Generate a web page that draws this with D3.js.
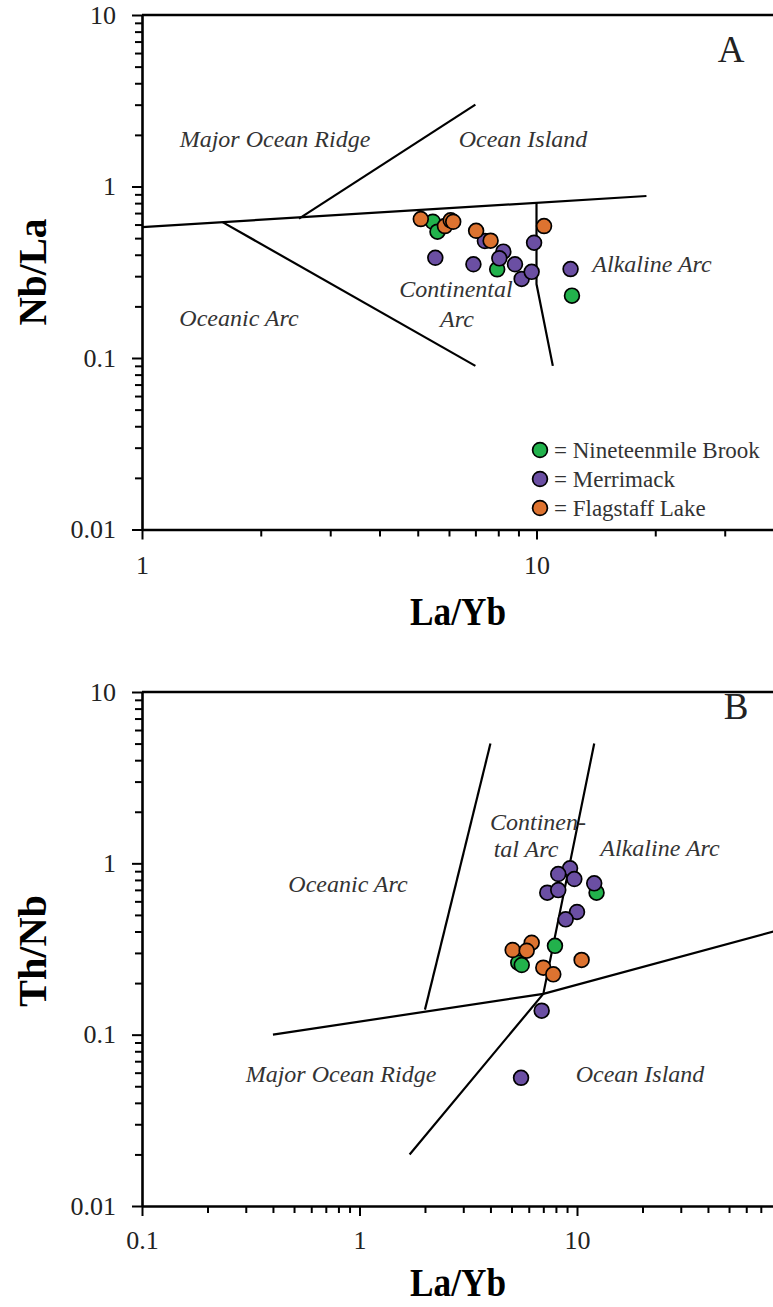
<!DOCTYPE html>
<html>
<head>
<meta charset="utf-8">
<script src="https://cdn.jsdelivr.net/npm/d3@7"></script>
<style>
  body { margin: 0; background: #fff; }
  svg { display: block; }
  svg text { font-family: "Liberation Serif", "Times New Roman", serif; }
  .axis path, .axis line { stroke: #000; }
  .axis text { font-size: 26px; fill: #222; }
  .region { font-size: 24px; font-style: italic; fill: #333; }
  .title { font-size: 40px; font-weight: bold; fill: #000; }
  .legend text { font-size: 23px; fill: #333; }
</style>
</head>
<body>
<script>
// ---- data ----
const groups = ["Nineteenmile Brook", "Merrimack", "Flagstaff Lake"];

// panel A : Nb/La vs La/Yb
const nineteenA_LaYb = [5.46, 5.61, 7.95, 12.3];
const nineteenA_NbLa = [0.623, 0.545, 0.329, 0.231];
const merrA_LaYb = [7.40, 5.54, 6.92, 8.24, 8.05, 8.82, 9.17, 9.72, 9.86, 12.2];
const merrA_NbLa = [0.481, 0.384, 0.352, 0.417, 0.381, 0.352, 0.289, 0.318, 0.470, 0.330];
const flagA_LaYb = [5.09, 5.86, 6.06, 6.15, 7.03, 7.65, 10.45];
const flagA_NbLa = [0.646, 0.588, 0.635, 0.623, 0.552, 0.483, 0.588];

// panel B : Th/Nb vs La/Yb
const nineteenB_LaYb = [12.3, 7.92, 5.37, 5.57];
const nineteenB_ThNb = [0.674, 0.330, 0.263, 0.255];
const merrB_LaYb = [9.29, 8.20, 9.72, 12.0, 7.30, 8.20, 10.0, 8.87, 6.88, 5.53];
const merrB_ThNb = [0.935, 0.866, 0.810, 0.764, 0.674, 0.698, 0.520, 0.471, 0.138, 0.056];
const flagB_LaYb = [6.19, 5.06, 5.87, 7.0, 7.78, 10.5];
const flagB_ThNb = [0.344, 0.312, 0.309, 0.246, 0.225, 0.273];

// field boundaries [La/Yb, ratio]
const boundA_1 = [[1, 0.58], [19, 0.88]];
const boundA_2 = [[2.5, 0.65], [7, 3]];
const boundA_3 = [[1.6, 0.62], [7, 0.09]];
const boundA_4 = [[10, 0.8], [10, 0.27], [11, 0.09]];
const boundB_1 = [[0.4, 0.1], [7, 0.173], [80, 0.4]];
const boundB_2 = [[4, 5], [2, 0.14]];
const boundB_3 = [[12, 5], [7, 0.173], [1.7, 0.02]];

const regionsA = ["Major Ocean Ridge", "Ocean Island", "Oceanic Arc", "Continental", "Arc", "Alkaline Arc"];
const regionsB = ["Continen-", "tal Arc", "Alkaline Arc", "Oceanic Arc", "Major Ocean Ridge", "Ocean Island"];

const colors = ["#22b24c", "#6b4fa3", "#dd7330"];

const W = 773, H = 1307;
const svg = d3.select("body").append("svg").attr("width", W).attr("height", H);

function zip(xs, ys) { return xs.map((v, i) => [v, ys[i]]); }

function drawPanel(cfg) {
  const x = d3.scaleLog().domain(cfg.xDomain).range([142, cfg.xRight]);
  const y = d3.scaleLog().domain([0.01, 10]).range([cfg.bottom, cfg.top]);
  const g = svg.append("g");

  const isMajor = d => Math.abs(Math.log10(d) - Math.round(Math.log10(d))) < 1e-6;

  // minor ticks
  g.append("g").attr("class", "axis")
    .attr("transform", "translate(0," + cfg.bottom + ")")
    .call(d3.axisBottom(x).tickValues(x.ticks().filter(d => !isMajor(d) && x(d) < W - 2))
      .tickSize(7).tickSizeOuter(0).tickFormat(""))
    .call(s => s.select(".domain").remove())
    .selectAll("line").attr("stroke-width", 2);
  g.append("g").attr("class", "axis")
    .attr("transform", "translate(142,0)")
    .call(d3.axisLeft(y).tickValues(y.ticks().filter(d => !isMajor(d)))
      .tickSize(7).tickSizeOuter(0).tickFormat(""))
    .call(s => s.select(".domain").remove())
    .selectAll("line").attr("stroke-width", 2);

  // major ticks + labels
  const xa = g.append("g").attr("class", "axis")
    .attr("transform", "translate(0," + cfg.bottom + ")")
    .call(d3.axisBottom(x).tickValues(x.ticks().filter(isMajor))
      .tickSize(10).tickSizeOuter(0).tickPadding(cfg.xPad).tickFormat(d => d.toString()));
  xa.select(".domain").attr("stroke-width", 2.6);
  xa.selectAll("line").attr("stroke-width", 2);

  const ya = g.append("g").attr("class", "axis")
    .attr("transform", "translate(142,0)")
    .call(d3.axisLeft(y).tickValues(y.ticks().filter(isMajor))
      .tickSize(10).tickSizeOuter(0).tickPadding(16).tickFormat(d => d.toString()));
  ya.select(".domain").attr("stroke-width", 2.6);
  ya.selectAll("line").attr("stroke-width", 2);

  // top frame
  g.append("line").attr("x1", 142).attr("x2", W).attr("y1", cfg.top).attr("y2", cfg.top)
    .attr("stroke", "#000").attr("stroke-width", 2.6);

  // boundaries
  const line = d3.line().x(d => x(d[0])).y(d => y(d[1]));
  cfg.bounds.forEach(b => {
    g.append("path").attr("d", line(b)).attr("fill", "none")
      .attr("stroke", "#000").attr("stroke-width", 2.2);
  });

  // region labels
  cfg.regions.forEach((t, i) => {
    g.append("text").attr("class", "region")
      .attr("x", cfg.regionPos[i][0]).attr("y", cfg.regionPos[i][1])
      .attr("text-anchor", "middle").text(t);
  });

  // points
  cfg.series.forEach((pts, k) => {
    g.selectAll(null).data(pts).join("circle")
      .attr("cx", d => x(d[0])).attr("cy", d => y(d[1])).attr("r", 7.4)
      .attr("fill", colors[k]).attr("stroke", "#000").attr("stroke-width", 1.7);
  });

  // titles
  g.append("text").attr("class", "title")
    .attr("x", 458).attr("y", cfg.xTitleY).attr("text-anchor", "middle")
    .attr("textLength", 96).attr("lengthAdjust", "spacingAndGlyphs").text("La/Yb");
  g.append("text").attr("class", "title")
    .attr("transform", "translate(46," + cfg.yTitleC + ") rotate(-90)")
    .attr("text-anchor", "middle")
    .attr("textLength", cfg.yTitleLen).attr("lengthAdjust", "spacingAndGlyphs")
    .text(cfg.yTitle);
  g.append("text").attr("x", cfg.letterPos[0]).attr("y", cfg.letterPos[1])
    .attr("text-anchor", "middle").attr("font-size", 37).attr("fill", "#222")
    .text(cfg.letter);

  return { g: g };
}

const A = drawPanel({
  xDomain: [1, 40], xRight: 142 + 394.5 * Math.log10(40),
  top: 15, bottom: 529.5, xPad: 16,
  bounds: [boundA_1, boundA_2, boundA_3, boundA_4],
  regions: regionsA,
  regionPos: [[275, 147], [523, 147], [239, 326], [456, 297], [457, 327], [652, 272]],
  series: [zip(nineteenA_LaYb, nineteenA_NbLa), zip(merrA_LaYb, merrA_NbLa), zip(flagA_LaYb, flagA_NbLa)],
  xTitleY: 625, yTitle: "Nb/La", yTitleC: 272, yTitleLen: 107,
  letter: "A", letterPos: [731, 62]
});

// legend in panel A
const leg = svg.append("g").attr("class", "legend");
groups.forEach((name, i) => {
  const yy = 450 + i * 29;
  leg.append("circle").attr("cx", 540).attr("cy", yy).attr("r", 7.4)
    .attr("fill", colors[i]).attr("stroke", "#000").attr("stroke-width", 1.7);
  leg.append("text").attr("x", 554).attr("y", yy + 7.5).text("= " + name);
});

const B = drawPanel({
  xDomain: [0.1, 80], xRight: 142 + 217.5 * Math.log10(800),
  top: 692, bottom: 1206, xPad: 15,
  bounds: [boundB_1, boundB_2, boundB_3],
  regions: regionsB,
  regionPos: [[538, 830], [526, 857], [660, 856], [348, 892], [341, 1082], [640, 1082]],
  series: [zip(nineteenB_LaYb, nineteenB_ThNb), zip(merrB_LaYb, merrB_ThNb), zip(flagB_LaYb, flagB_ThNb)],
  xTitleY: 1296, yTitle: "Th/Nb", yTitleC: 951, yTitleLen: 112,
  letter: "B", letterPos: [736, 719]
});
</script>
</body>
</html>
